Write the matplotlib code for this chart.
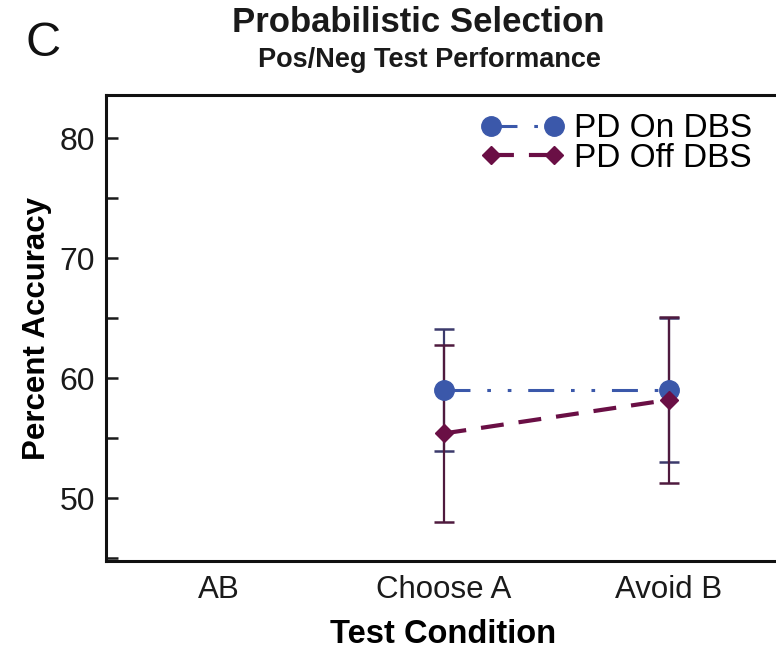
import matplotlib
matplotlib.use("Agg")
import matplotlib.pyplot as plt
import numpy as np

plt.rcParams['font.family'] = ['Liberation Sans', 'DejaVu Sans']

# Data
conditions = ["AB", "Choose A", "Avoid B"]
on_x = [1, 2]
on_mean = [59.05, 59.05]
on_err = [5.1, 6.0]
off_x = [1, 2]
off_mean = [55.4, 58.2]
off_err_low = [7.35, 6.9]
off_err_high = [7.35, 6.9]
y_ticks = [50, 60, 70, 80]

on_color = '#3b58aa'
on_bar = '#3c3a6c'
off_color = '#6a0f45'
off_bar = '#4f1a3e'

fig = plt.figure(figsize=(7.76, 6.51), dpi=100)
ax = fig.add_axes([106/776, 1 - 561/651, 675/776, (561 - 95)/651])

ax.errorbar(on_x, on_mean, yerr=on_err, fmt='none', ecolor=on_bar,
            elinewidth=1.6, capsize=7, capthick=1.8, zorder=2)
ax.errorbar(off_x, off_mean, yerr=[off_err_low, off_err_high], fmt='none',
            ecolor=off_bar, elinewidth=1.6, capsize=7, capthick=1.8, zorder=2)

ax.plot(on_x, on_mean, color=on_color, marker='o', markersize=14,
        linewidth=2.2, linestyle=(0, (8.5, 5.5, 1.2, 5.5, 1.2, 5.5)),
        dash_capstyle='butt', label='PD On DBS', zorder=3)
ax.plot(off_x, off_mean, color=off_color, marker='D', markersize=9,
        linewidth=3.0, linestyle=(0, (5.5, 3.6)), dash_capstyle='butt',
        label='PD Off DBS', zorder=4)

ax.set_xlim(-0.5, 2.5)
ax.set_ylim(44.77, 83.62)
ax.set_xticks(range(len(conditions)))
ax.set_xticklabels(conditions)
ax.set_yticks(y_ticks)
ax.set_yticks([45, 55, 65, 75], minor=True)

ax.tick_params(axis='x', length=0, labelsize=22.5, pad=10, colors='#1a1a1a')
ax.tick_params(axis='y', which='both', direction='in', length=8.5, width=1.8,
               labelsize=23, pad=8, colors='#1a1a1a')
ax.tick_params(axis='y', which='minor', labelleft=False)

for side in ['left', 'bottom', 'top']:
    ax.spines[side].set_linewidth(2.2)
    ax.spines[side].set_color('#111111')
ax.spines['right'].set_visible(False)

ax.set_ylabel('Percent Accuracy', fontsize=22.5, fontweight='bold', labelpad=5)
ax.set_xlabel('Test Condition', fontsize=23.5, fontweight='bold', labelpad=10)

leg = ax.legend(loc='upper right', bbox_to_anchor=(0.985, 1.0), frameon=False,
                fontsize=24, handlelength=2.5, handletextpad=0.3,
                labelspacing=-0.05, borderaxespad=0.15, numpoints=2)

fig.text(418/776, 1 - 22/651, 'Probabilistic Selection', fontsize=25,
         fontweight='bold', ha='center', va='center', color='#1a1a1a')
fig.text(429/776, 1 - 60/651, 'Pos/Neg Test Performance', fontsize=19.5,
         fontweight='bold', ha='center', va='center', color='#1a1a1a')
fig.text(43/776, 1 - 43/651, 'C', fontsize=35, ha='center', va='center',
         color='#111111')

fig.savefig('out.png', dpi=100)
